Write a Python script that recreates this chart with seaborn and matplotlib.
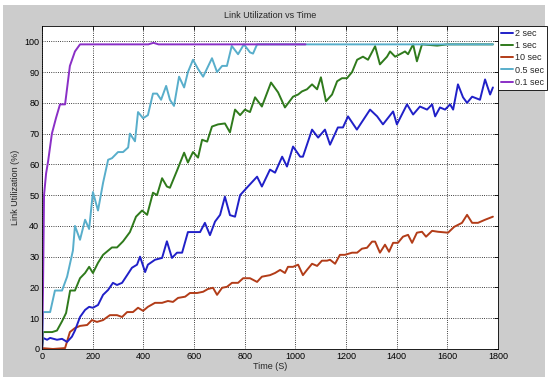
import matplotlib
matplotlib.use("Agg")
import matplotlib.pyplot as plt
import numpy as np
import pandas as pd
import seaborn as sns
from matplotlib.patches import Rectangle

# series: time (s) and link utilization (%)
t_2s = [0, 4, 20, 32, 59, 79, 99, 118, 130, 150, 170, 186, 201, 221, 241, 261, 280, 296,
        316, 336, 355, 375, 387, 407, 418, 446, 474, 493, 513, 533, 553, 576, 596, 624,
        643, 663, 683, 703, 722, 742, 762, 782, 813, 849, 868, 900, 920, 948, 967, 991,
        1019, 1030, 1066, 1090, 1117, 1137, 1168, 1188, 1208, 1243, 1295, 1323, 1346,
        1386, 1401, 1441, 1465, 1492, 1520, 1540, 1552, 1571, 1591, 1611, 1623, 1642,
        1662, 1678, 1698, 1729, 1749, 1769, 1780]
u_2s = [0, 3.6, 3.0, 3.6, 3.0, 3.3, 2.3, 4.0, 6.0, 10.4, 12.7, 13.7, 13.4, 14.3, 17.6,
        19.2, 21.5, 20.8, 21.5, 24.0, 26.4, 27.4, 30.0, 25.0, 27.4, 29.0, 29.6, 35.0,
        29.6, 31.3, 31.3, 38.0, 38.0, 38.0, 41.0, 37.0, 41.4, 43.6, 49.5, 43.5, 43.0,
        50.0, 52.8, 56.0, 52.8, 58.3, 57.3, 62.5, 59.3, 65.8, 62.5, 62.5, 71.3, 68.7,
        71.3, 66.4, 72.0, 72.0, 75.6, 71.3, 77.8, 75.6, 73.0, 77.2, 73.0, 79.5, 76.2,
        78.8, 77.8, 79.5, 75.6, 78.5, 77.8, 79.5, 77.8, 86.0, 81.8, 80.0, 82.0, 81.0,
        87.6, 82.7, 85.0]

t_1s = [0, 4, 40, 59, 79, 95, 111, 130, 150, 170, 186, 201, 221, 241, 276, 296, 320,
        347, 371, 395, 415, 438, 454, 474, 493, 505, 533, 561, 576, 596, 616, 632, 652,
        671, 695, 722, 742, 762, 782, 801, 821, 841, 868, 904, 932, 959, 991, 1011,
        1026, 1046, 1066, 1086, 1101, 1121, 1145, 1165, 1184, 1204, 1224, 1244, 1267,
        1287, 1315, 1334, 1362, 1374, 1394, 1413, 1433, 1445, 1465, 1480, 1500, 1560,
        1600, 1780]
u_1s = [0, 5.5, 5.5, 6.0, 9.0, 11.7, 19.0, 19.0, 23.0, 24.7, 26.7, 24.7, 28.0, 30.6,
        33.0, 33.0, 35.0, 38.0, 43.0, 45.0, 43.6, 50.8, 50.0, 55.5, 52.8, 52.4, 58.0,
        63.8, 60.6, 64.0, 62.2, 68.0, 67.4, 72.3, 73.0, 73.3, 70.4, 77.8, 76.0, 77.8,
        77.0, 81.8, 78.8, 86.6, 83.4, 78.5, 82.0, 82.7, 83.7, 84.4, 86.0, 84.4, 88.3,
        80.5, 82.7, 87.0, 88.0, 88.0, 90.0, 94.0, 95.0, 94.0, 98.4, 92.5, 95.0, 96.7,
        95.0, 95.8, 96.7, 95.8, 99.0, 93.5, 99.0, 98.6, 99.0, 99.0]

t_10s = [0, 43, 91, 110, 130, 150, 178, 197, 217, 241, 268, 296, 316, 336, 359, 379,
         399, 418, 446, 474, 497, 517, 537, 565, 584, 612, 636, 655, 675, 691, 711, 730,
         750, 774, 794, 821, 849, 868, 900, 920, 940, 959, 971, 991, 1011, 1030, 1046,
         1066, 1086, 1105, 1125, 1137, 1157, 1176, 1196, 1224, 1244, 1263, 1283, 1303,
         1315, 1334, 1354, 1370, 1386, 1405, 1425, 1445, 1461, 1480, 1500, 1516, 1540,
         1563, 1603, 1627, 1658, 1678, 1698, 1721, 1749, 1780]
u_10s = [0.3, 0, 0.3, 5.5, 6.8, 7.5, 7.8, 9.4, 8.8, 9.4, 11.0, 11.0, 10.4, 12.0, 12.0,
         13.4, 12.4, 13.7, 15.0, 15.0, 15.6, 15.3, 16.6, 17.0, 18.2, 18.2, 18.6, 19.5,
         19.9, 17.6, 19.9, 20.2, 21.5, 21.5, 23.0, 23.0, 21.8, 23.5, 24.0, 24.7, 25.7,
         24.7, 26.7, 26.7, 27.4, 24.0, 25.7, 27.7, 27.0, 28.7, 28.7, 29.0, 27.7, 30.6,
         30.6, 31.3, 31.3, 32.6, 32.9, 34.9, 34.9, 31.3, 33.9, 31.6, 34.5, 34.5, 36.5,
         37.1, 34.5, 37.8, 38.1, 36.5, 38.4, 38.1, 37.8, 39.7, 41.0, 43.6, 41.0, 41.0,
         42.0, 43.0]

t_05s = [0, 4, 32, 51, 79, 99, 122, 130, 150, 170, 186, 201, 221, 241, 261, 276, 300,
         320, 340, 347, 367, 379, 399, 418, 438, 454, 470, 490, 505, 521, 541, 561, 576,
         596, 616, 636, 671, 691, 711, 730, 749, 774, 797, 821, 833, 849, 1200, 1780]
u_05s = [0, 12.0, 12.0, 19.0, 19.0, 23.5, 32.0, 40.0, 35.5, 42.0, 39.0, 51.0, 45.0,
         54.0, 61.5, 62.0, 64.0, 64.0, 65.5, 70.0, 67.5, 77.0, 75.0, 76.0, 83.0, 83.0,
         81.0, 85.5, 81.0, 79.0, 88.5, 85.0, 90.0, 94.0, 91.0, 88.5, 94.5, 90.0, 92.0,
         92.0, 98.5, 95.8, 99.0, 96.4, 96.0, 99.0, 99.0, 99.0]

t_01s = [0, 4, 8, 16, 24, 39, 55, 71, 91, 110, 130, 150, 420, 440, 460, 1040]
u_01s = [0, 20.0, 50.0, 57.0, 61.0, 70.0, 75.0, 79.5, 79.5, 92.0, 96.7, 99.0, 99.0,
         99.5, 99.0, 99.0]

labels = ["2 sec", "1 sec", "10 sec", "0.5 sec", "0.1 sec"]
colors = ["#2020c8", "#2f7a1c", "#b23c18", "#58aecb", "#8a2fc6"]

frames = []
for lab, t, u in zip(labels, [t_2s, t_1s, t_10s, t_05s, t_01s],
                     [u_2s, u_1s, u_10s, u_05s, u_01s]):
    frames.append(pd.DataFrame({"time": t, "util": u, "series": lab}))
df = pd.concat(frames, ignore_index=True)

sns.set_style("white")
plt.rcParams["font.family"] = ["Liberation Sans", "DejaVu Sans"]

fig = plt.figure(figsize=(5.5, 3.81), dpi=100, facecolor="white")
fig.patches.append(Rectangle((0.006, 0.01), 0.985, 0.976, transform=fig.transFigure,
                             facecolor="#cccccc", edgecolor="none", zorder=-10))
ax = fig.add_axes([0.0764, 0.084, 0.829, 0.848])

# draw later series first so the order on top matches the picture
z_order = ["10 sec", "2 sec", "1 sec", "0.5 sec", "0.1 sec"]
for lab in z_order:
    sub = df[df["series"] == lab]
    sns.lineplot(data=sub, x="time", y="util", color=colors[labels.index(lab)],
                 linewidth=1.4, estimator=None, sort=False, ax=ax, label=lab)

ax.set_xlim(0, 1800)
ax.set_ylim(0, 105)
ax.set_xticks(range(0, 1801, 200))
ax.set_yticks(range(0, 101, 10))
ax.grid(True, linestyle=":", color="black", linewidth=0.6)
ax.tick_params(direction="in", length=3, width=0.6, labelsize=6.5, pad=2,
               top=True, right=True, colors="black")
for s in ax.spines.values():
    s.set_color("black")
    s.set_linewidth(0.6)
ax.set_xlabel("Time (S)", fontsize=6.5, labelpad=1)
ax.set_ylabel("Link Utilization (%)", fontsize=6.5, labelpad=3)
ax.set_title("Link Utilization vs Time", fontsize=6.5, pad=6)

handles, labs = ax.get_legend_handles_labels()
order = [labs.index(l) for l in labels]
leg = ax.legend([handles[i] for i in order], labels, loc="upper left",
                bbox_to_anchor=(1.0, 1.0), borderaxespad=0, fontsize=6.5,
                handlelength=1.3, handletextpad=0.2, labelspacing=0.35,
                borderpad=0.35, fancybox=False, framealpha=1, edgecolor="black")
leg.get_frame().set_linewidth(0.6)

fig.savefig("out.png", dpi=100, facecolor=fig.get_facecolor())
plt.close(fig)
